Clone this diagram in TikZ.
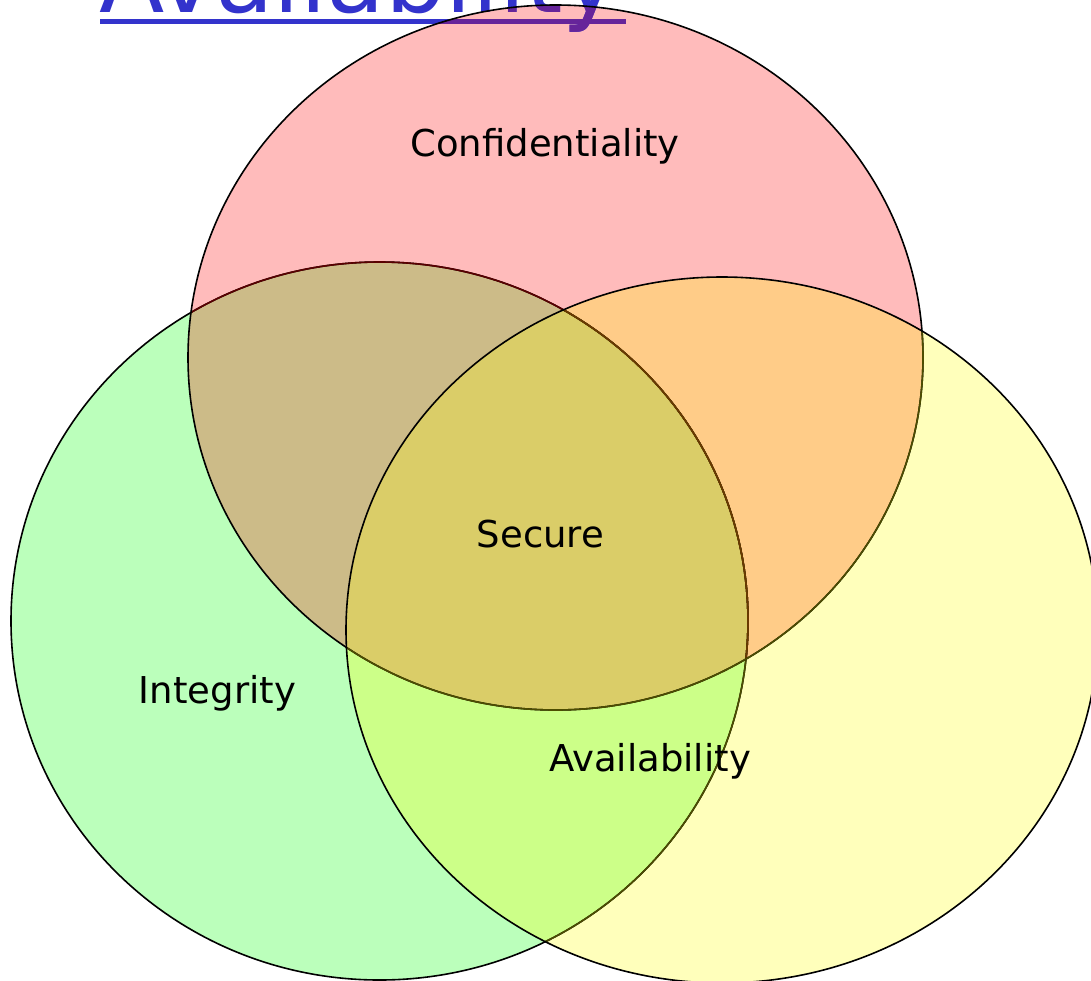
\documentclass[tikz,border=0pt]{standalone}
\usepackage{fontspec}
\setmainfont{DejaVu Sans}
\definecolor{pinkc}{HTML}{FFBBBB}
\definecolor{greenc}{HTML}{BBFFBB}
\definecolor{yellowc}{HTML}{FFFFBB}
\definecolor{pgc}{HTML}{CCBB88}
\definecolor{pyc}{HTML}{FFCC88}
\definecolor{gyc}{HTML}{CCFF88}
\definecolor{allc}{HTML}{DACD68}
\definecolor{linkblue}{HTML}{3333CC}
\definecolor{linkpurple}{HTML}{66249A}
\definecolor{redline}{HTML}{5A0000}
\definecolor{oliveline}{HTML}{4D4D00}
\definecolor{brownline}{HTML}{6A3A00}
\tikzset{
  outline/.style={line width=1.6pt},
  lbl/.style={font=\fontsize{37}{44}\selectfont, inner sep=0pt, anchor=base},
  biglink/.style={font=\fontsize{95.4}{110}\selectfont, inner sep=0pt, anchor=base west}
}
\newcommand{\Pcirc}{(555.5,357.5) ellipse [x radius=367.5pt, y radius=352.5pt]}
\newcommand{\Gcirc}{(379.5,621) ellipse [x radius=368.5pt, y radius=359pt]}
\newcommand{\Ycirc}{(722,630) ellipse [x radius=376pt, y radius=353pt]}
\begin{document}
\begin{tikzpicture}[x=1pt,y=-1pt]
\useasboundingbox (0,0) rectangle (1091,980);
\fill[white] (0,0) rectangle (1091,980);
% base fills
\fill[greenc] \Gcirc;
\fill[pinkc] \Pcirc;
\fill[yellowc] \Ycirc;
\begin{scope}
  \clip \Gcirc;
  \fill[gyc] \Ycirc;
\end{scope}
\begin{scope}
  \clip \Pcirc;
  \fill[pgc] \Gcirc;
  \fill[pyc] \Ycirc;
  \begin{scope}
    \clip \Gcirc;
    \fill[allc] \Ycirc;
  \end{scope}
\end{scope}
% title link text (cut off at top)
\node[biglink, text=linkblue] (title) at (99,12) {Availability};
\fill[linkblue] (100,18.5) rectangle (626,23.5);
\begin{scope}
  \clip \Pcirc;
  \node[biglink, text=linkpurple] (titleb) at (99,12) {Availability};
  \fill[linkpurple] (100,18.5) rectangle (626,23.5);
\end{scope}
% outlines
\draw[outline] \Gcirc;
\begin{scope}
  \clip \Pcirc;
  \draw[outline, redline] \Gcirc;
\end{scope}
\begin{scope}
  \clip \Ycirc;
  \draw[outline, oliveline] \Gcirc;
  \clip \Pcirc;
  \draw[outline, brownline] \Gcirc;
\end{scope}
\draw[outline] \Pcirc;
\begin{scope}
  \clip \Ycirc;
  \draw[outline, oliveline] \Pcirc;
\end{scope}
\draw[outline] \Ycirc;
% labels
\node[lbl] (conf) at (545,156) {Confidentiality};
\node[lbl] (secure) at (540.5,547) {Secure};
\node[lbl] (integ) at (217.5,703) {Integrity};
\node[lbl] (avail) at (650,771) {Availability};
\end{tikzpicture}
\end{document}
